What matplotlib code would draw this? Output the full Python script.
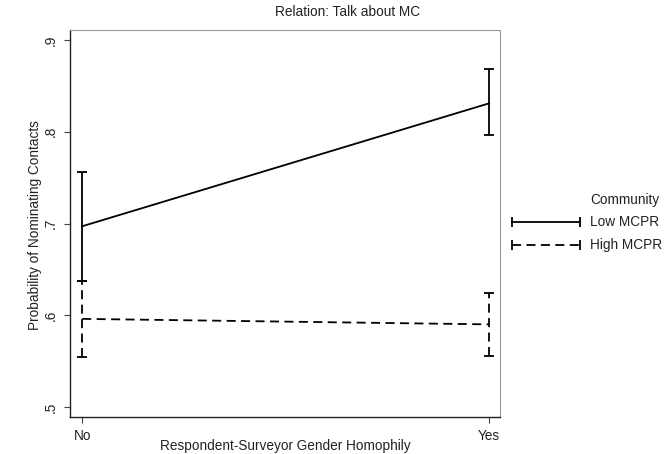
import matplotlib.pyplot as plt
from matplotlib.lines import Line2D

plt.rcParams['font.family'] = ['Liberation Sans', 'DejaVu Sans']

# Predicted probabilities with confidence intervals
categories = ['No', 'Yes']
low_mean = [0.697, 0.831]
low_lo = [0.637, 0.797]
low_hi = [0.756, 0.868]
high_mean = [0.596, 0.590]
high_lo = [0.554, 0.555]
high_hi = [0.637, 0.624]
y_ticks = [0.5, 0.6, 0.7, 0.8, 0.9]
y_labels = ['.5', '.6', '.7', '.8', '.9']
series_names = ['Low MCPR', 'High MCPR']

W, H = 665, 454
fs = 9.8
txt = '#222222'

fig = plt.figure(figsize=(W / 100, H / 100), dpi=100)
ax = fig.add_axes([70 / W, 1 - 417 / H, 430 / W, 387 / H])

x = list(range(len(categories)))
dash = (0, (5, 3))

# Low MCPR: solid
ax.plot(x, low_mean, color='black', lw=1.3, ls='-')
ax.vlines(x, low_lo, low_hi, color='black', lw=1.3, ls='-')
ax.plot(x, low_lo, ls='none', marker='_', ms=7, mew=1.3, color='black')
ax.plot(x, low_hi, ls='none', marker='_', ms=7, mew=1.3, color='black')

# High MCPR: dashed
ax.plot(x, high_mean, color='black', lw=1.3, ls=dash)
ax.vlines(x, high_lo, high_hi, color='black', lw=1.3, linestyles=[dash])
ax.plot(x, high_lo, ls='none', marker='_', ms=7, mew=1.3, color='black')
ax.plot(x, high_hi, ls='none', marker='_', ms=7, mew=1.3, color='black')

ax.set_xlim(-0.03, 1.027)
ax.set_ylim(0.489, 0.911)
ax.set_xticks(x)
ax.set_xticklabels(categories, fontsize=fs, color=txt)
ax.set_yticks(y_ticks)
ax.set_yticklabels(y_labels, fontsize=fs, rotation=90, va='center', color=txt)
ax.tick_params(direction='out', length=4, width=0.8, color='#444444')
ax.tick_params(axis='x', pad=5)
ax.tick_params(axis='y', pad=5)

for s in ['left', 'bottom']:
    ax.spines[s].set_color('#222222')
    ax.spines[s].set_linewidth(1.0)
for s in ['top', 'right']:
    ax.spines[s].set_color('#999999')
    ax.spines[s].set_linewidth(0.8)

# Axis titles placed like Stata's
fig.text(285 / W, 1 - 446 / H, 'Respondent-Surveyor Gender Homophily', ha='center',
         va='center', fontsize=fs, color=txt)
fig.text(35 / W, 1 - 225 / H, 'Probability of Nominating Contacts', ha='center',
         va='center', rotation=90, fontsize=fs, color=txt)

fig.text(348 / W, 1 - 12 / H, 'Relation: Talk about MC', ha='center', va='center',
         fontsize=fs, color=txt)

# Legend drawn by hand, Stata style
fig.text(590 / W, 1 - 200 / H, 'Community', ha='left', va='center', fontsize=fs, color=txt)
for i, (name, style) in enumerate(zip(series_names, ['-', dash])):
    yy = 1 - (222 + 23 * i) / H
    fig.add_artist(Line2D([512 / W, 580 / W], [yy, yy], color='black', lw=1.3, ls=style,
                          marker='|', ms=7, mew=1.3))
    fig.text(590 / W, yy, name, ha='left', va='center', fontsize=fs, color=txt)

fig.savefig('out.png', dpi=100)
